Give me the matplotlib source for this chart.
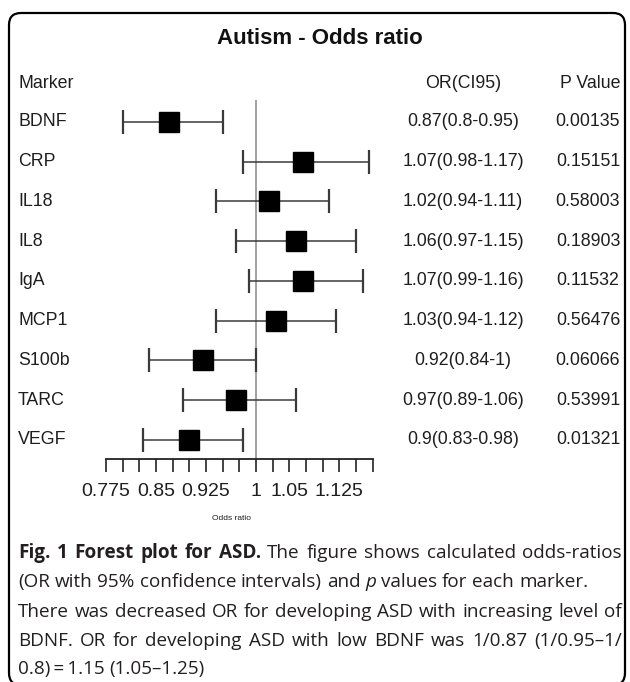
import numpy as np
import matplotlib.pyplot as plt
import matplotlib.transforms as mtransforms
from matplotlib.patches import FancyBboxPatch

markers = ['BDNF', 'CRP', 'IL18', 'IL8', 'IgA', 'MCP1', 'S100b', 'TARC', 'VEGF']
or_vals = [0.87, 1.07, 1.02, 1.06, 1.07, 1.03, 0.92, 0.97, 0.90]
ci_lo = [0.80, 0.98, 0.94, 0.97, 0.99, 0.94, 0.84, 0.89, 0.83]
ci_hi = [0.95, 1.17, 1.11, 1.15, 1.16, 1.12, 1.00, 1.06, 0.98]
p_vals = ['0.00135', '0.15151', '0.58003', '0.18903', '0.11532',
          '0.56476', '0.06066', '0.53991', '0.01321']
tick_vals = np.arange(0.775, 1.1751, 0.025)
tick_shown = [0.775, 0.85, 0.925, 1.0, 1.05, 1.125]

W, H = 630, 682
fig = plt.figure(figsize=(W / 100, H / 100), dpi=100)
chart_font = 'Liberation Sans'
txt_col = '#1e1e1e'

# forest axes: x is odds ratio, y is row index
ax = fig.add_axes([106 / W, 1 - 459 / H, (372.7 - 106) / W, (459 - 100) / H])
ax.patch.set_visible(False)
y = np.arange(len(markers))
ax.set_xlim(0.775, 1.175)
ax.set_ylim(8.48, -0.55)

ax.axvline(1.0, color='#9a9a9a', lw=1.3, zorder=1)
o = np.array(or_vals)
ax.errorbar(o, y, xerr=[o - np.array(ci_lo), np.array(ci_hi) - o], fmt='none',
            ecolor='#3a3a3a', elinewidth=1.1, capsize=8.3, capthick=1.6, zorder=2)
ax.plot(o, y, 's', color='black', markersize=15, zorder=3)

for s in ['left', 'top', 'right']:
    ax.spines[s].set_visible(False)
ax.spines['bottom'].set_linewidth(1.3)
ax.spines['bottom'].set_color('#222222')
ax.set_yticks([])
ax.set_xticks(tick_vals)
ax.set_xticklabels(['{:g}'.format(t) if any(abs(t - s) < 1e-6 for s in tick_shown) else ''
                    for t in tick_vals])
ax.tick_params(axis='x', direction='out', length=9.4, width=1.2, color='#222222',
               pad=8, labelsize=14, labelcolor=txt_col)
for lab in ax.get_xticklabels():
    lab.set_fontfamily(chart_font)
ax.text(0.47, -0.165, 'Odds ratio', transform=ax.transAxes, ha='center', va='center',
        fontsize=6, family=chart_font, color=txt_col)

# table columns
row_tr = mtransforms.blended_transform_factory(fig.transFigure, ax.transData)
for i, m in enumerate(markers):
    ax.text(18 / W, i, m, transform=row_tr, ha='left', va='center', fontsize=12.8,
            family=chart_font, color=txt_col)
    ax.text(463 / W, i, '{:g}({:g}-{:g})'.format(or_vals[i], ci_lo[i], ci_hi[i]),
            transform=row_tr, ha='center', va='center', fontsize=12.8,
            family=chart_font, color=txt_col)
    ax.text(588 / W, i, p_vals[i], transform=row_tr, ha='center', va='center',
            fontsize=12.8, family=chart_font, color=txt_col)

fig.text(18 / W, 1 - 84 / H, 'Marker', ha='left', va='center', fontsize=12.8,
         family=chart_font, color=txt_col)
fig.text(463 / W, 1 - 84 / H, 'OR(CI95)', ha='center', va='center', fontsize=12.8,
         family=chart_font, color=txt_col)
fig.text(590 / W, 1 - 84 / H, 'P Value', ha='center', va='center', fontsize=12.8,
         family=chart_font, color=txt_col)
fig.text(320 / W, 1 - 39 / H, 'Autism - Odds ratio', ha='center', va='center',
         fontsize=16, fontweight='bold', family=chart_font, color='#111111')

# rounded frame
frame = FancyBboxPatch((0.09, -0.03), 6.16, 6.82 - 0.13 + 0.03,
                       boxstyle='round,pad=0,rounding_size=0.12',
                       transform=fig.dpi_scale_trans, fill=False,
                       edgecolor='black', lw=1.6)
fig.patches.append(frame)

# caption: lines 1, 3, 4 are stretched to the right edge
cap_font = 'Open Sans'
cap_size = 13.6
cap_lines = [
    [('Fig. 1 Forest plot for ASD.', 'bold', 'normal'),
     ('The figure shows calculated odds-ratios', 'normal', 'normal')],
    [('(OR with 95% confidence intervals) and', 'normal', 'normal'),
     ('p', 'normal', 'italic'),
     ('values for each marker.', 'normal', 'normal')],
    [('There was decreased OR for developing ASD with increasing level of', 'normal', 'normal')],
    [('BDNF. OR for developing ASD with low BDNF was 1/0.87 (1/0.95\u20131/', 'normal', 'normal')],
    [('0.8)\u2009=\u20091.15 (1.05\u20131.25)', 'normal', 'normal')],
]
cap_justify = [True, False, True, True, False]
cap_y = [553, 582, 612, 641, 669]
x0, x1 = 18, 622
renderer = fig.canvas.get_renderer()
space_w = fig.text(0, 0, 'a a', fontsize=cap_size, family=cap_font).get_window_extent(renderer).width \
    - fig.text(0, 0, 'aa', fontsize=cap_size, family=cap_font).get_window_extent(renderer).width
for t in fig.texts[-2:]:
    t.remove()
for line, yy, just in zip(cap_lines, cap_y, cap_justify):
    words = [(w, wt, st) for piece, wt, st in line for w in piece.split(' ')]
    arts = []
    for w, wt, st in words:
        t = fig.text(0, 1 - yy / H, w, ha='left', va='center', fontsize=cap_size,
                     fontweight=wt, fontstyle=st, family=[cap_font, 'DejaVu Sans'],
                     color='#231f20')
        arts.append((t, t.get_window_extent(renderer).width))
    total = sum(wd for _, wd in arts)
    gap = (x1 - x0 - total) / (len(arts) - 1) if just and len(arts) > 1 else space_w
    x = x0
    for t, wd in arts:
        t.set_x(x / W)
        x += wd + gap

fig.savefig('out.png', dpi=100)
